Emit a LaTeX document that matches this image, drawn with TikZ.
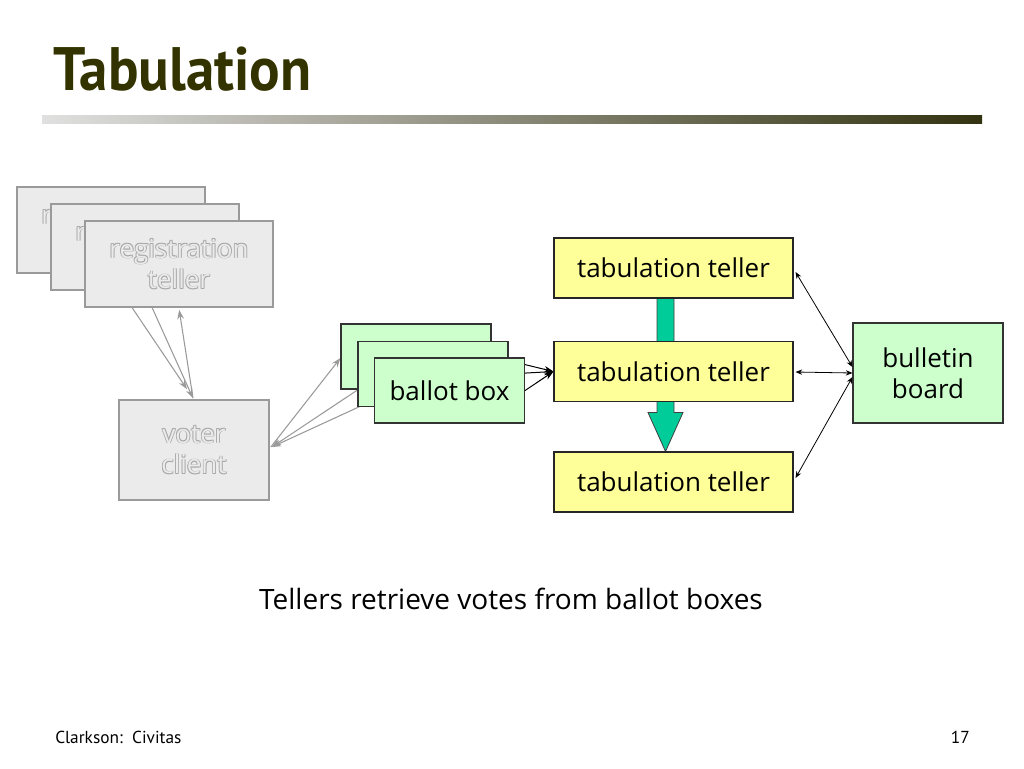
\documentclass[tikz,border=0pt]{standalone}
\usepackage{fontspec}
\setmainfont{Open Sans}
\newfontfamily\titlefont{PT Sans}
\newfontfamily\footfont{PT Sans}
\usetikzlibrary{arrows.meta,calc}
\definecolor{regfill}{HTML}{EBEBEB}
\definecolor{regline}{HTML}{9A9A9A}
\definecolor{embD}{HTML}{A8A8A8}
\definecolor{bbfill}{HTML}{CCFFCC}
\definecolor{ttfill}{HTML}{FFFF99}
\definecolor{bigarrow}{HTML}{00CC99}
\definecolor{titlecol}{HTML}{333300}
\definecolor{barleft}{HTML}{E0E0E0}
\definecolor{barright}{HTML}{333311}
\newcommand\emb[1]{\leavevmode
  \rlap{\kern0.55pt\raisebox{-0.55pt}{\textcolor{embD}{#1}}}%
  \rlap{\kern-0.55pt\raisebox{0.55pt}{\textcolor{embD}{#1}}}%
  \rlap{\kern0.55pt\raisebox{0.55pt}{\textcolor{embD}{#1}}}%
  \rlap{\kern-0.55pt\raisebox{-0.55pt}{\textcolor{embD}{#1}}}%
  \textcolor{regfill}{#1}}
\pgfdeclarelayer{background}
\pgfsetlayers{background,main}
\begin{document}
\begin{tikzpicture}[x=0.75pt,y=-0.75pt,
  boxtext/.style={font=\fontsize{19.5}{23}\selectfont, align=center, inner sep=0pt},
  regbox/.style={boxtext, draw=regline, line width=1.2pt, fill=regfill,
     minimum width=188*0.75pt, minimum height=86*0.75pt},
  voterbox/.style={boxtext, draw=regline, line width=1.2pt, fill=regfill,
     minimum width=150*0.75pt, minimum height=100*0.75pt},
  ballotbox/.style={boxtext, draw=black!80, line width=0.8pt, fill=bbfill,
     minimum width=150*0.75pt, minimum height=65*0.75pt},
  tellerbox/.style={boxtext, draw=black!85, line width=0.8pt, fill=ttfill,
     minimum width=239*0.75pt, minimum height=60*0.75pt},
  boardbox/.style={boxtext, draw=black!80, line width=0.8pt, fill=bbfill,
     minimum width=150*0.75pt, minimum height=100*0.75pt},
  grayarrow/.style={draw=regline, line width=0.8pt, -{Stealth[length=7pt,width=5pt]}},
  blackarrow/.style={draw=black, line width=0.75pt, -{Stealth[length=7pt,width=5pt]}},
  dblarrow/.style={draw=black, line width=0.6pt, {Stealth[length=5pt,width=4pt]}-{Stealth[length=5pt,width=4pt]}},
  bigarrowstyle/.style={fill=bigarrow, draw=black!75, line width=0.6pt}
]
\useasboundingbox (0,0) rectangle (1024,768);

% title and bar
\node[anchor=base west, inner sep=0pt, text=titlecol] (title) at (53,90)
  {\titlefont\bfseries\fontsize{46}{50}\selectfont\scalebox{0.93}[1]{Tabulation}};
\shade[left color=barleft, right color=barright] (42,115) rectangle (982,123);

% registration tellers
\node[regbox] (reg1) at (111,230) {\emb{registration}\\\emb{teller}};
\node[regbox] (reg2) at (145,247) {\emb{registration}\\\emb{teller}};
\node[regbox] (reg3) at (179,264) {\emb{registration}\\\emb{teller}};

% voter client
\node[voterbox] (voter) at (194,450) {\emb{voter}\\\emb{client}};

% ballot boxes
\node[ballotbox] (bb1) at (416,356.5) {ballot box};
\node[ballotbox] (bb2) at (433,374) {ballot box};
\node[ballotbox] (bb3) at (449.5,390.5) {ballot box};

% tabulation tellers
\node[tellerbox] (tt1) at (673.5,268) {tabulation teller};
\node[tellerbox] (tt2) at (673.5,371.5) {tabulation teller};
\node[tellerbox] (tt3) at (673.5,482) {tabulation teller};

% bulletin board
\node[boardbox] (board) at (928,373) {bulletin\\board};

\begin{pgfonlayer}{background}
  % registration <-> voter
  \draw[grayarrow] ($(reg3.south west)+(48,0)$) -- ($(voter.north)+(-7,-10)$);
  \draw[grayarrow] ($(reg3.south west)+(68,0)$) -- ($(voter.north)+(-1,-1)$);
  \draw[grayarrow] ($(voter.north)+(-1,-1)$) -- ($(reg3.south west)+(95,2)$);
  % voter <-> ballot boxes
  \draw[grayarrow] ($(voter.east)+(1,-3)$) -- ($(bb1.west)+(0,1.5)$);
  \draw[grayarrow] ($(bb2.west)+(0,16)$) -- ($(voter.east)+(2,-3)$);
  \draw[grayarrow] ($(bb3.west)+(0,9.5)$) -- ($(voter.east)+(2,-3)$);
  % ballot boxes -> tabulation teller
  \draw[blackarrow] (bb1.east) -- (tt2.west);
  \draw[blackarrow] (bb2.east) -- (tt2.west);
  \draw[blackarrow] (bb3.east) -- (tt2.west);
  % big green arrow
  \coordinate (gtop) at ($(tt1.south)+(-8,-2)$);
  \coordinate (gtip) at ($(tt3.north)+(-8,0)$);
  \draw[bigarrowstyle] ($(gtop)+(-8.5,0)$) -- ($(gtop)+(-8.5,116)$) -- ($(gtop)+(-17.5,116)$)
     -- (gtip) -- ($(gtop)+(17.5,116)$) -- ($(gtop)+(8.5,116)$) -- ($(gtop)+(8.5,0)$) -- cycle;
\end{pgfonlayer}

% bulletin board <-> tellers
\draw[dblarrow] ($(tt1.east)+(2,4)$) -- ($(board.west)+(0,-6)$);
\draw[dblarrow] ($(tt2.east)+(2,0.5)$) -- (board.west);
\draw[dblarrow] ($(tt3.east)+(2,-4)$) -- ($(board.west)+(0,4)$);

% caption
\node[anchor=base, inner sep=0pt, font=\fontsize{21}{25}\selectfont] (caption) at (511,609)
  {Tellers retrieve votes from ballot boxes};

% footer
\node[anchor=base west, inner sep=0pt, font=\footfont\fontsize{13}{15}\selectfont] (foot) at (55,743)
  {Clarkson:\ \ Civitas};
\node[anchor=base east, inner sep=0pt, font=\footfont\fontsize{13}{15}\selectfont] (page) at (970,743)
  {17};
\end{tikzpicture}
\end{document}
